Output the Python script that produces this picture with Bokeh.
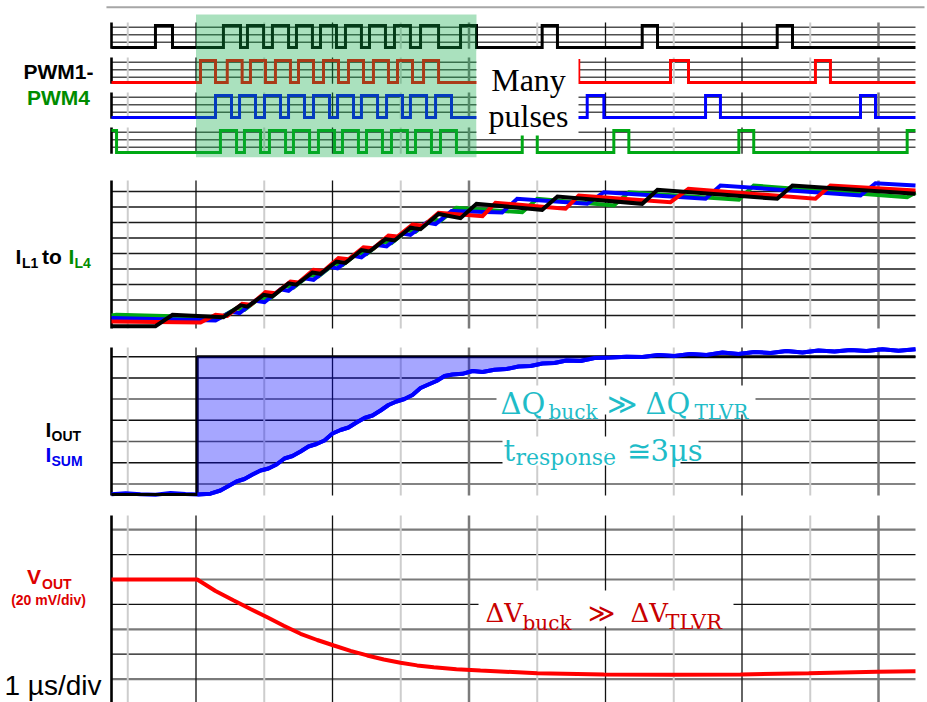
import numpy as np
from bokeh.embed import file_html
from bokeh.layouts import column
from bokeh.models import BoxAnnotation, Label, Range1d
from bokeh.plotting import figure
from bokeh.resources import INLINE

# ---------------- time base: 1 µs/div, load step applied at t = 0 ----------------
T_START, T_END = -0.619, 5.271
HALF_DIV_TICKS = [-0.5, 0.5, 1.5, 2.5, 3.5, 4.5]
DIV_TICKS = [0.0, 1.0, 3.0, 4.0]
HEAVY_DIV_TICKS = [2.0, 5.0]

# ---------------- PWM on-intervals of the four phases (µs) ----------------
PWM1_PULSES = [(-0.297, -0.172), (0.201, 0.326), (0.377, 0.495), (0.560, 0.678),
               (0.736, 0.853), (0.912, 1.029), (1.095, 1.212), (1.271, 1.388),
               (1.454, 1.571), (1.645, 1.777), (1.938, 2.055), (2.536, 2.648),
               (3.269, 3.381), (4.258, 4.370)]
PWM2_PULSES = [(0.033, 0.143), (0.229, 0.338), (0.399, 0.509), (0.582, 0.692),
               (0.751, 0.861), (0.934, 1.044), (1.117, 1.227), (1.300, 1.410),
               (1.476, 1.586), (1.667, 1.777), (2.099, 2.194), (2.707, 2.804),
               (3.476, 3.608), (4.538, 4.648)]
PWM3_PULSES = [(0.143, 0.260), (0.319, 0.436), (0.502, 0.619), (0.678, 0.795),
               (0.861, 0.978), (1.037, 1.154), (1.212, 1.330), (1.396, 1.513),
               (1.571, 1.689), (1.755, 1.872), (2.243, 2.353), (2.866, 2.988),
               (3.733, 3.842), (4.868, 4.978)]
PWM4_PULSES = [(-0.619, -0.582), (0.179, 0.297), (0.355, 0.473), (0.538, 0.656),
               (0.714, 0.832), (0.897, 1.015), (1.073, 1.190), (1.249, 1.366),
               (1.432, 1.549), (1.608, 1.725), (1.791, 1.908), (2.390, 2.500),
               (3.061, 3.171), (3.977, 4.086), (5.210, 5.271)]
HIGHLIGHT_US = (0.0, 2.055)

# ---------------- phase inductor currents (div): value at T_START, at every PWM edge, at T_END ----------------
IL1 = [0.310, 0.310, 1.045, 0.890, 1.652, 1.568, 2.329, 2.239, 3.071, 2.987, 3.774, 3.690,
       4.484, 4.394, 5.219, 5.129, 5.929, 5.839, 6.665, 6.568, 7.548, 7.277, 8.206, 7.819,
       8.677, 8.206, 9.110, 8.529, 9.387, 8.852]
IL2 = [0.613, 0.548, 1.045, 0.968, 1.755, 1.690, 2.503, 2.432, 3.194, 3.129, 3.948, 3.871,
       4.697, 4.626, 5.406, 5.335, 6.161, 6.097, 6.871, 6.794, 7.626, 7.406, 8.271, 7.884,
       8.742, 8.310, 9.174, 8.529, 9.387, 9.065]
IL3 = [0.839, 0.677, 1.245, 1.148, 1.955, 1.858, 2.690, 2.594, 3.400, 3.303, 4.135, 4.039,
       4.845, 4.748, 5.548, 5.452, 6.290, 6.194, 6.994, 6.897, 7.735, 7.645, 8.529, 8.206,
       8.955, 8.529, 9.387, 8.742, 9.535, 9.387]
IL4 = [1.000, 1.000, 1.045, 0.871, 1.458, 1.361, 2.168, 2.071, 2.903, 2.806, 3.613, 3.516,
       4.348, 4.252, 5.058, 4.961, 5.761, 5.665, 6.497, 6.400, 7.206, 7.110, 7.942, 7.665,
       8.529, 8.097, 8.955, 8.465, 9.387, 8.632, 8.935, 8.935]

# ---------------- output current step and summed phase current (div) ----------------
IOUT_STEP_T = 0.009
IOUT_BEFORE, IOUT_AFTER = 0.0, 6.5
ISUM_T = [-0.619, -0.516, -0.407, -0.297, -0.187, -0.077, 0.011, 0.106, 0.179, 0.238,
          0.297, 0.355, 0.414, 0.473, 0.531, 0.590, 0.648, 0.707, 0.766, 0.824,
          0.883, 0.941, 1.000, 1.059, 1.117, 1.176, 1.234, 1.293, 1.352, 1.410,
          1.469, 1.527, 1.586, 1.645, 1.703, 1.762, 1.821, 1.879, 1.952, 2.026,
          2.099, 2.187, 2.275, 2.363, 2.451, 2.538, 2.626, 2.714, 2.817, 2.919,
          3.037, 3.154, 3.271, 3.388, 3.505, 3.623, 3.740, 3.857, 3.974, 4.092,
          4.209, 4.326, 4.443, 4.560, 4.678, 4.795, 4.912, 5.029, 5.147, 5.271]
ISUM = [0.014, 0.057, 0.009, -0.009, 0.066, 0.019, 0.000, 0.038, 0.189, 0.401,
        0.613, 0.731, 0.943, 1.132, 1.226, 1.415, 1.698, 1.816, 2.028, 2.264,
        2.382, 2.547, 2.877, 3.042, 3.160, 3.396, 3.608, 3.726, 3.962, 4.222,
        4.387, 4.505, 4.693, 5.024, 5.189, 5.354, 5.590, 5.660, 5.693, 5.825,
        5.778, 5.882, 5.920, 6.038, 6.061, 6.179, 6.203, 6.321, 6.297, 6.439,
        6.462, 6.500, 6.486, 6.580, 6.533, 6.627, 6.580, 6.698, 6.627, 6.722,
        6.675, 6.769, 6.698, 6.792, 6.745, 6.816, 6.769, 6.849, 6.783, 6.849]

# ---------------- output voltage deviation (mV, 20 mV/div) ----------------
VOUT_T = [-0.619, 0.009, 0.143, 0.277, 0.399, 0.522, 0.643, 0.766, 0.888, 1.010,
          1.132, 1.254, 1.376, 1.498, 1.620, 1.742, 1.908, 2.084, 2.500, 2.988,
          3.489, 3.989, 4.489, 4.990, 5.271]
VOUT_MV = [0.0, 0.0, -9.2, -16.9, -23.7, -30.3, -37.2, -43.6, -48.6, -53.0,
           -57.3, -61.0, -64.3, -66.9, -69.0, -70.4, -72.0, -73.1, -75.3, -76.3,
           -76.5, -76.3, -75.3, -74.1, -73.7]

# ---------------- layout ----------------
W = 927
PX_PER_US = 136.5
T_ORIGIN_PX = 195.5
x_range = Range1d(-T_ORIGIN_PX / PX_PER_US, (W - T_ORIGIN_PX) / PX_PER_US)

SANS = "Liberation Sans"
SERIF = "Liberation Serif"
MATH = "DejaVu Serif"
GREEN_TXT = "#008c00"
RED_TXT = "#dd0000"
CYAN = "#1fbcc8"
DESCENT = 0.28  # label anchor sits below the glyph baseline by about this fraction of the size


def panel(height, y0, y1):
    p = figure(width=W, height=height, x_range=x_range, y_range=Range1d(y0, y1),
               toolbar_location=None, output_backend="svg",
               x_axis_location=None, y_axis_location=None, min_border=0,
               outline_line_color=None, background_fill_color="white",
               border_fill_color="white")
    p.grid.visible = False
    return p


def time_grid(p, lo, hi):
    p.segment(x0=HALF_DIV_TICKS, x1=HALF_DIV_TICKS, y0=lo, y1=hi, line_color="#cdcdcd", line_width=2)
    p.segment(x0=DIV_TICKS, x1=DIV_TICKS, y0=lo, y1=hi, line_color="#111111", line_width=1.3)
    p.segment(x0=HEAVY_DIV_TICKS, x1=HEAVY_DIV_TICKS, y0=lo, y1=hi, line_color="#7b7b7b", line_width=2.5)


def left_axis(p, lo, hi):
    p.segment(x0=[T_START], x1=[T_START], y0=lo, y1=hi, line_color="black", line_width=2.6)


def note(p, top, x, y, text, size, color="black", font=SANS, style="normal", align="left"):
    y = y - DESCENT * size
    p.add_layout(Label(x=x, y=p.height - (y - top), x_units="screen", y_units="screen",
                       text=text, text_font=font, text_font_size=f"{size}px",
                       text_font_style=style, text_color=color, text_align=align,
                       text_baseline="alphabetic"))


def blank(p, top, x0, x1, y0, y1):
    p.add_layout(BoxAnnotation(left=x0, right=x1, top=p.height - (y0 - top),
                               bottom=p.height - (y1 - top), left_units="screen",
                               right_units="screen", top_units="screen", bottom_units="screen",
                               fill_color="white", fill_alpha=1.0, line_color=None))


def pwm_wave(pulses, low):
    high = low + 1.0
    xs, ys = [T_START], [low]
    for s, e in pulses:
        if s <= T_START:
            ys[0] = high
        else:
            xs += [s, s]
            ys += [low, high]
        if e >= T_END:
            xs.append(T_END)
            ys.append(high)
            return xs, ys
        xs += [e, e]
        ys += [high, low]
    xs.append(T_END)
    ys.append(low)
    return xs, ys


def corners(pulses):
    return [T_START] + [edge for pulse in pulses for edge in pulse] + [T_END]


# ================= PWM panel =================
ROW = 35.0 / 22.0
p1 = panel(168, -5.5, 47.0 / 22.0)
p1.segment(x0=[-0.656], x1=[5.337], y0=[1.832], y1=[1.832], line_color="#a6a6a6", line_width=2)
rows = [(PWM1_PULSES, "#000000"), (PWM2_PULSES, "#ff0000"),
        (PWM3_PULSES, "#0000ff"), (PWM4_PULSES, "#00a814")]
for k, (pulses, color) in enumerate(rows):
    low = -k * ROW
    lvls = [low + 0.241, low + 0.577, low + 0.923]
    p1.segment(x0=T_START, x1=T_END, y0=lvls, y1=lvls, line_color="#505050", line_width=1.5)
    time_grid(p1, low - 0.06, low + 1.14)
    left_axis(p1, low - 0.06, low + 1.14)
for k, (pulses, color) in enumerate(rows):
    xs, ys = pwm_wave(pulses, -k * ROW)
    p1.line(xs, ys, line_color=color, line_width=3, line_join="miter")
p1.add_layout(BoxAnnotation(left=HIGHLIGHT_US[0], right=HIGHLIGHT_US[1], top=1.5, bottom=-4.986,
                            fill_color=(12, 169, 69), fill_alpha=0.35, line_color=None))
blank(p1, 0, 476, 578, 50, 135)
note(p1, 0, 528, 88, "Many", 32, font=SERIF, align="center")
note(p1, 0, 528, 124, "pulses", 32, font=SERIF, align="center")
note(p1, 0, 58, 77.3, "PWM1-", 21, style="bold", align="center")
note(p1, 0, 58, 102.7, "PWM4", 21, color=GREEN_TXT, style="bold", align="center")

# ================= inductor current panel =================
p2 = panel(168, -0.355, 10.484)
p2.segment(x0=T_START, x1=T_END, y0=list(range(1, 10)), y1=list(range(1, 10)),
           line_color="#1a1a1a", line_width=1.5)
time_grid(p2, 0.161, 9.71)
left_axis(p2, 0.161, 9.71)
for pulses, levels, color in [(PWM4_PULSES, IL4, "#00a814"), (PWM3_PULSES, IL3, "#0000ff"),
                              (PWM2_PULSES, IL2, "#ff0000"), (PWM1_PULSES, IL1, "#000000")]:
    p2.line(corners(pulses), levels, line_color=color, line_width=4, line_join="miter")
note(p2, 168, 15, 261.7, "I", 21, style="bold")
note(p2, 168, 21.5, 266.7, "L1", 14, style="bold")
note(p2, 168, 41.5, 261.7, "to", 21, style="bold")
note(p2, 168, 68, 261.7, "I", 21, color=GREEN_TXT, style="bold")
note(p2, 168, 74, 266.7, "L4", 14, color=GREEN_TXT, style="bold")

# ================= output current panel =================
p3 = panel(170, -0.566, 7.453)
hl = [0.5 + i for i in range(7)]
p3.segment(x0=T_START, x1=T_END, y0=hl, y1=hl,
           line_color=["#5a5a5a", "#111111"] * 3 + ["#111111"], line_width=1.5)
time_grid(p3, -0.047, 6.934)
left_axis(p3, -0.047, 6.934)
isum_t = np.array(ISUM_T)
isum = np.array(ISUM)
p3.line(isum_t, isum, line_color="#0000ff", line_width=4)
p3.line([T_START, IOUT_STEP_T, IOUT_STEP_T, T_END],
        [IOUT_BEFORE, IOUT_BEFORE, IOUT_AFTER, IOUT_AFTER], line_color="black", line_width=3)
after = isum_t >= IOUT_STEP_T
fill_t = np.concatenate([[IOUT_STEP_T], isum_t[after]])
fill_lo = np.concatenate([[isum[after][0]], np.minimum(isum[after], IOUT_AFTER)])
p3.varea(x=fill_t, y1=fill_lo, y2=IOUT_AFTER, fill_color="#0000ff", fill_alpha=0.35)
p3.line(isum_t[after], isum[after], line_color="#0000ff", line_width=4)
blank(p3, 336, 496, 755, 385, 414)
blank(p3, 336, 502, 698, 436, 452)
blank(p3, 336, 502, 680, 452, 465)
note(p3, 336, 500, 411.7, "ΔQ", 29, color=CYAN, font=MATH)
note(p3, 336, 548, 417.5, "buck", 20, color=CYAN, font=MATH)
note(p3, 336, 606, 411.7, "≫", 29, color=CYAN, font=MATH)
note(p3, 336, 645, 411.7, "ΔQ", 29, color=CYAN, font=MATH)
note(p3, 336, 694, 417.5, "TLVR", 20, color=CYAN, font=MATH)
note(p3, 336, 503, 458.5, "t", 29, color=CYAN, font=MATH)
note(p3, 336, 515, 463.5, "response", 22, color=CYAN, font=MATH)
note(p3, 336, 626, 459, "≅3μs", 29, color=CYAN, font=MATH)
note(p3, 336, 45, 435, "I", 21, style="bold")
note(p3, 336, 51, 439.5, "OUT", 14, style="bold")
note(p3, 336, 45, 460, "I", 21, color="#0000ee", style="bold")
note(p3, 336, 51, 464.3, "SUM", 14, color="#0000ee", style="bold")

# ================= output voltage panel =================
p4 = panel(196, -98.80, 58.63)
vl = [40, 20, 0, -20, -40, -60, -80]
p4.segment(x0=T_START, x1=T_END, y0=vl, y1=vl,
           line_color=["#7a7a7a", "#111111", "#7a7a7a", "#111111", "#7a7a7a", "#111111", "#7a7a7a"],
           line_width=[2.2, 1.3, 2.2, 1.3, 2.2, 1.3, 2.2])
time_grid(p4, -98.8, 51.41)
left_axis(p4, -98.8, 51.41)
p4.line(VOUT_T, VOUT_MV, line_color="#ff0000", line_width=4)
blank(p4, 506, 478, 733, 590, 626)
note(p4, 506, 485, 619.3, "ΔV", 26, color="#c80000", font=MATH)
note(p4, 506, 522, 627.7, "buck", 20, color="#c80000", font=MATH)
note(p4, 506, 587, 619.3, "≫", 26, color="#c80000", font=MATH)
note(p4, 506, 630, 619.3, "ΔV", 26, color="#c80000", font=MATH)
note(p4, 506, 665, 627.7, "TLVR", 21, color="#c80000", font=MATH)
note(p4, 506, 26.5, 581.7, "V", 21, color=RED_TXT, style="bold")
note(p4, 506, 41.5, 587.3, "OUT", 14, color=RED_TXT, style="bold")
note(p4, 506, 48, 603.5, "(20 mV/div)", 14, color=RED_TXT, style="bold", align="center")
note(p4, 506, 4, 693, "1 µs/div", 28)

layout = column(p1, p2, p3, p4, spacing=0)
open("out.html", "w").write(file_html(layout, INLINE))
